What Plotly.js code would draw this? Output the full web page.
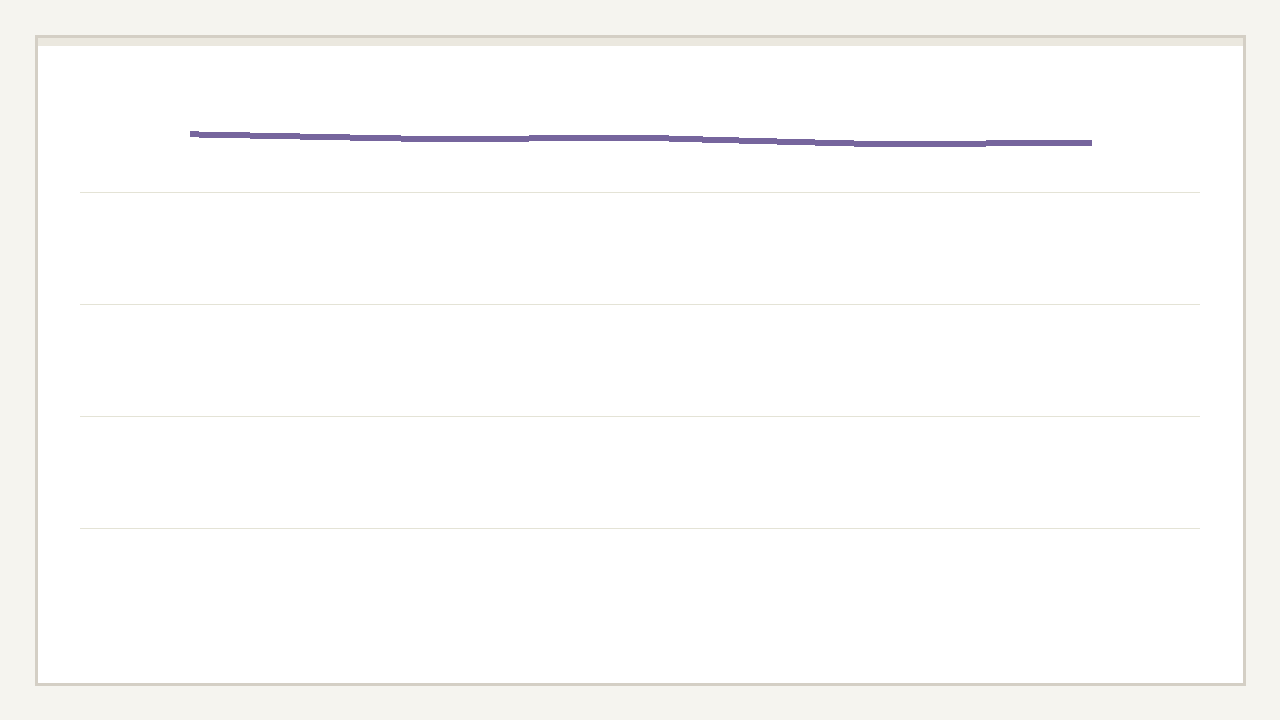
<!DOCTYPE html>
<html>
<head>
<meta charset="utf-8">
<script src="https://cdn.plot.ly/plotly-3.0.1.min.js"></script>
<style>
  html, body { margin: 0; padding: 0; width: 1280px; height: 720px; background: #f5f4ef; overflow: hidden; }
  #card { position: absolute; left: 35px; top: 35px; width: 1205px; height: 645px; border: 3px solid #d4cfc5; background: #ffffff; }
  #strip { position: absolute; left: 0; top: 0; width: 100%; height: 8px; background: #ebe8df; }
  #chart { position: absolute; left: 0; top: 0; width: 1280px; height: 720px; }
  #chart path.js-line { shape-rendering: crispEdges; }
</style>
</head>
<body>
<div id="card"><div id="strip"></div></div>
<div id="chart"></div>
<script>
const periods = [0, 1, 2, 3, 4, 5, 6, 7, 8, 9, 10, 11, 12];
const values = [90.3, 90.0, 89.7, 89.5, 89.5, 89.7, 89.7, 89.3, 88.95, 88.6, 88.6, 88.8, 88.8];
const gridTicks = [20, 40, 60, 80];

Plotly.newPlot('chart', [{
  x: periods,
  y: values,
  type: 'scatter',
  mode: 'lines',
  line: { color: '#76659d', width: 6 },
  hoverinfo: 'skip'
}], {
  width: 1280,
  height: 720,
  margin: { l: 80, r: 80, t: 80, b: 80 },
  paper_bgcolor: 'rgba(0,0,0,0)',
  plot_bgcolor: 'rgba(0,0,0,0)',
  showlegend: false,
  xaxis: {
    range: [-1.463, 13.437],
    showgrid: false, zeroline: false, showline: false,
    showticklabels: false, ticks: ''
  },
  yaxis: {
    range: [0, 100],
    tickvals: gridTicks,
    showgrid: true, gridcolor: '#e4e3d6', gridwidth: 1,
    zeroline: false, showline: false,
    showticklabels: false, ticks: ''
  }
}, { displayModeBar: false, staticPlot: true });
</script>
</body>
</html>
